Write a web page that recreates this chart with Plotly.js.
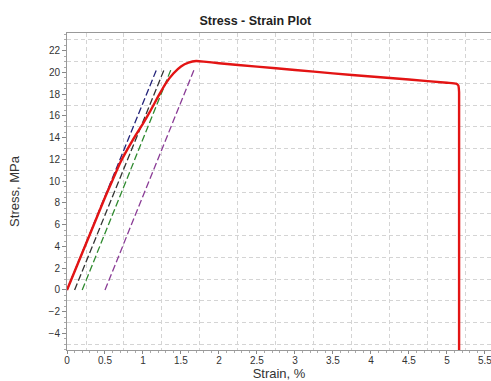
<!DOCTYPE html>
<html>
<head>
<meta charset="utf-8">
<script src="https://cdn.plot.ly/plotly-3.0.1.min.js"></script>
<style>html,body{margin:0;padding:0;background:#fff;}#chart{width:491px;height:381px;}</style>
</head>
<body>
<div id="chart"></div>
<script>
// Measured stress-strain curve
var strain = [0, 0.1, 0.2, 0.3, 0.4, 0.5, 0.6, 0.7, 0.8, 0.9, 1.0, 1.1, 1.2, 1.3, 1.4, 1.5, 1.6, 1.7, 1.8, 2.0, 2.5, 3.0, 3.5, 4.0, 4.5, 5.0, 5.12, 5.15, 5.16, 5.16];
var stress = [0, 1.7, 3.4, 5.1, 6.8, 8.5, 10.1, 11.7, 13.0, 14.2, 15.3, 16.5, 17.8, 19.0, 19.9, 20.55, 20.9, 21.05, 21.0, 20.85, 20.54, 20.23, 19.92, 19.63, 19.35, 19.06, 18.98, 18.8, 18.2, -7];

// Offset (modulus) lines
var offsetNames = ["offset 0", "modulus", "offset 0.1", "offset 0.2", "offset 0.5"];
var offsetColors = ["#23237a", "#8a3c96", "#333333", "#2f8a2f", "#8a3c96"];
var offsetX0 = [0, 0, 0.1, 0.2, 0.5];
var offsetX1 = [1.18, 0.6, 1.28, 1.37, 1.675];
var offsetY0 = [0, 0, 0, 0, 0];
var offsetY1 = [20.3, 10.3, 20.3, 20.3, 20.3];

var xTickVals = [0, 0.5, 1, 1.5, 2, 2.5, 3, 3.5, 4, 4.5, 5, 5.5];
var xTickText = ["0", "0.5", "1", "1.5", "2", "2.5", "3", "3.5", "4", "4.5", "5", "5.5"];
var yTickVals = [-4, -2, 0, 2, 4, 6, 8, 10, 12, 14, 16, 18, 20, 22];

var traces = [];
for (var i = 0; i < offsetX0.length; i++) {
  traces.push({
    type: "scatter", mode: "lines", name: offsetNames[i],
    x: [offsetX0[i], offsetX1[i]], y: [offsetY0[i], offsetY1[i]],
    line: {color: offsetColors[i], width: 1.3, dash: (i === 1 ? "3px,3px" : "7px,3px")},
    xaxis: "x", yaxis: "y", hoverinfo: "skip"
  });
}
traces.push({
  type: "scatter", mode: "lines", name: "Stress",
  x: strain, y: stress, line: {color: "#e31414", width: 2.4, shape: "spline", smoothing: 0.4},
  xaxis: "x", yaxis: "y"
});
traces.push({type: "scatter", mode: "lines", x: [], y: [], xaxis: "x2", yaxis: "y2", showlegend: false});

var xr = [0, 5.58], yr = [-5.52, 23.63];
var gridCol = "#d4d4d4";
var layout = {
  width: 491, height: 381,
  margin: {l: 67, r: 0, t: 33, b: 31},
  paper_bgcolor: "#ffffff", plot_bgcolor: "#ffffff",
  showlegend: false,
  font: {family: "Liberation Sans, Arial, sans-serif", color: "#333", size: 10},
  title: {text: "<b>Stress - Strain Plot</b>", x: 0.52, xref: "container", xanchor: "center", y: 0.945, yref: "container", yanchor: "middle", font: {size: 12.5, color: "#222", family: "Liberation Sans, Arial, sans-serif"}},
  xaxis: {
    range: xr, tick0: 0.25, dtick: 0.5, showgrid: true, gridcolor: gridCol, griddash: "4px,3px", gridwidth: 1,
    showticklabels: false, ticks: "", zeroline: false, showline: false, fixedrange: true
  },
  yaxis: {
    range: yr, tick0: 1, dtick: 2, showgrid: true, gridcolor: gridCol, griddash: "4px,3px", gridwidth: 1,
    showticklabels: false, ticks: "", zeroline: false, showline: false, fixedrange: true
  },
  xaxis2: {
    overlaying: "x", anchor: "y2", side: "bottom", range: xr,
    tickmode: "array", tickvals: xTickVals, ticktext: xTickText, ticklabeloverflow: "allow",
    ticks: "outside", ticklen: 3, tickcolor: "#888", tickfont: {size: 10, color: "#333"},
    ticklabelstandoff: -2,
    minor: {ticks: "outside", ticklen: 2, dtick: 0.1, tickcolor: "#aaa"},
    showgrid: false, zeroline: false, showline: true, linecolor: "#999", mirror: true,
    title: {text: "Strain, %", font: {size: 13, color: "#333"}, standoff: 4}
  },
  yaxis2: {
    overlaying: "y", anchor: "x2", side: "left", range: yr,
    tickmode: "array", tickvals: yTickVals,
    ticks: "outside", ticklen: 4, tickcolor: "#888", tickfont: {size: 10, color: "#333"},
    minor: {ticks: "outside", ticklen: 2, dtick: 0.5, tickcolor: "#aaa"},
    showgrid: false, zeroline: false, showline: true, linecolor: "#999",
    title: {text: "Stress, MPa", font: {size: 13, color: "#333"}, standoff: 26}
  }
};
Plotly.newPlot("chart", traces, layout, {displayModeBar: false, staticPlot: true});
</script>
</body>
</html>
